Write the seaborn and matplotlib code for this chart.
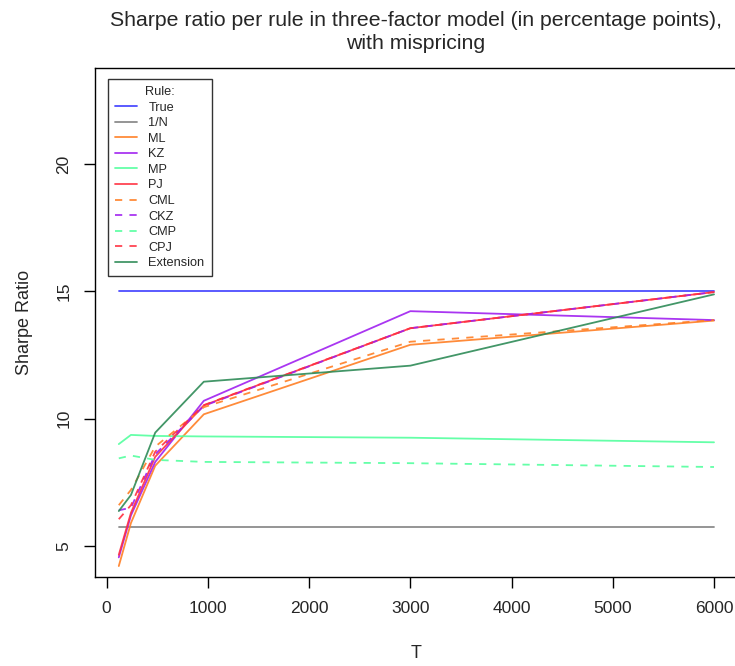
import matplotlib
matplotlib.use("Agg")
import matplotlib.pyplot as plt
import seaborn as sns
import pandas as pd
from matplotlib.lines import Line2D

# ---- data ----
T = [120, 240, 480, 960, 3000, 6000]
true_sr = [15.0, 15.0, 15.0, 15.0, 15.0, 15.0]
one_n = [5.73, 5.73, 5.73, 5.73, 5.73, 5.73]
ml = [4.21, 5.9, 8.15, 10.17, 12.9, 13.85]
kz = [4.55, 6.2, 8.3, 10.7, 14.22, 13.87]
mp = [9.0, 9.36, 9.32, 9.3, 9.25, 9.07]
pj = [4.65, 6.3, 8.5, 10.52, 13.55, 14.97]
cml = [6.6, 7.2, 8.9, 10.45, 13.02, 13.87]
ckz = [6.4, 6.5, 8.6, 10.5, 13.55, 14.97]
cmp_ = [8.44, 8.55, 8.38, 8.3, 8.25, 8.1]
cpj = [6.05, 6.6, 8.7, 10.53, 13.55, 14.97]
ext = [6.37, 7.0, 9.45, 11.45, 12.08, 14.88]

rules = ["True", "1/N", "ML", "KZ", "MP", "PJ", "CML", "CKZ", "CMP", "CPJ", "Extension"]
values = [true_sr, one_n, ml, kz, mp, pj, cml, ckz, cmp_, cpj, ext]
colors = ["#3a3aff", "#808080", "#ff7f24", "#a020f0", "#54ff9f", "#ff3040",
          "#ff7f24", "#a020f0", "#54ff9f", "#ff3040", "#2e8b57"]
dashed = [False, False, False, False, False, False, True, True, True, True, False]

sns.set_style("white")
plt.rcParams['font.family'] = ['Liberation Sans', 'DejaVu Sans']

fig = plt.figure(figsize=(7.35, 6.66), dpi=100)
ax = fig.add_axes([95 / 735, (666 - 577) / 666, (737.8 - 95) / 735, (577 - 68) / 666])

for name, vals, col, dsh in zip(rules, values, colors, dashed):
    df = pd.DataFrame({"T": T, "SR": vals})
    sns.lineplot(data=df, x="T", y="SR", ax=ax, color=col, linewidth=1.3,
                 linestyle=(0, (4, 4)) if dsh else "-", alpha=0.9)

ax.set_xlim(-115, 6235)
ax.set_ylim(3.78, 23.77)
ax.set_xticks([0, 1000, 2000, 3000, 4000, 5000, 6000])
ax.set_yticks([5, 10, 15, 20])
ax.tick_params(axis="both", direction="out", length=8, width=1, color="black",
               labelsize=12.5, bottom=True, left=True, pad=9)
for lbl in ax.get_yticklabels():
    lbl.set_rotation(90)
    lbl.set_va("center")
for s in ax.spines.values():
    s.set_color("black")
    s.set_linewidth(1.0)

ax.set_xlabel("T", fontsize=13, labelpad=21)
ax.set_ylabel("Sharpe Ratio", fontsize=13, labelpad=17)
fig.text(416, 666 - 32, "Sharpe ratio per rule in three-factor model (in percentage points),\nwith mispricing",
         transform=None, ha="center", va="center", fontsize=15.3, linespacing=1.3)

handles = [Line2D([0], [0], color=c, lw=1.3, alpha=0.9,
                  linestyle=(0, (4, 4)) if d else "-") for c, d in zip(colors, dashed)]
leg = ax.legend(handles, rules, title="Rule:", loc="upper left",
                bbox_to_anchor=(12.5 / 642.8, 1 - 11 / 509), fontsize=9.2,
                title_fontsize=9.2, frameon=True, fancybox=False, handlelength=1.75,
                handletextpad=0.9, labelspacing=0.28, borderpad=0.55, borderaxespad=0)
leg.get_frame().set_edgecolor("black")
leg.get_frame().set_linewidth(1.0)

fig.savefig("out.png", dpi=100)
